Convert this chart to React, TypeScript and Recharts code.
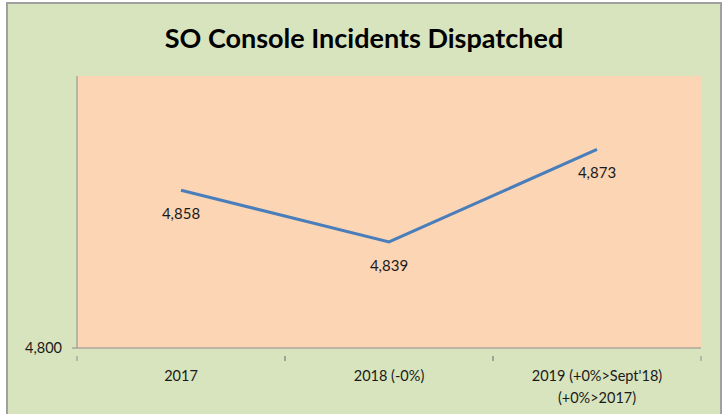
import { LineChart, Line, XAxis, YAxis, CartesianGrid, LabelList } from 'recharts'

const categories = ['2017', '2018 (-0%)', "2019 (+0%>Sept'18)\n(+0%>2017)"]
const incidents = [4858, 4839, 4873]
const yTicks = [4800]

const data = categories.map((name, i) => ({ name, value: incidents[i] }))

const FONT = 'Lato, "Open Sans", sans-serif'
const BAND = 208

const XTick = ({ x, y, payload }: any) => {
    const lines = String(payload.value).split('\n')
    return (
        <g>
            <line x1={x - BAND / 2} y1={y} x2={x - BAND / 2} y2={y + 5} stroke="#8c8c8c" />
            <line x1={x + BAND / 2} y1={y} x2={x + BAND / 2} y2={y + 5} stroke="#8c8c8c" />
            <text x={x} y={y + 25} textAnchor="middle" fill="#1a1a1a" fontSize={14.5} fontFamily={FONT}>
                {lines.map((l, i) => (
                    <tspan key={i} x={x} dy={i === 0 ? 0 : 22}>{l}</tspan>
                ))}
            </text>
        </g>
    )
}

export default function App() {
    return (
        <div style={{ position: 'fixed', left: 0, top: 0, width: 728, height: 414, background: '#fff', overflow: 'hidden' }}>
            <div
                style={{
                    position: 'absolute',
                    left: 6,
                    top: 2,
                    width: 712,
                    height: 430,
                    background: '#d8e4bd',
                    border: '2px solid #a0a0a0',
                }}
            />
            <div
                style={{
                    position: 'absolute',
                    left: 0,
                    top: 21,
                    width: 728,
                    textAlign: 'center',
                    fontFamily: FONT,
                    fontWeight: 700,
                    fontSize: 27,
                    color: '#000',
                }}
            >
                SO Console Incidents Dispatched
            </div>
            <div style={{ position: 'absolute', left: 0, top: 0 }}>
                <LineChart width={728} height={414} data={data} margin={{ top: 76, right: 27, bottom: 0, left: 0 }}>
                    <CartesianGrid fill="#fcd5b5" horizontal={false} vertical={false} stroke="none" />
                    <XAxis
                        dataKey="name"
                        scale="band"
                        height={66}
                        axisLine={{ stroke: '#8c8c8c' }}
                        tickLine={false}
                        tick={<XTick />}
                        interval={0}
                    />
                    <YAxis
                        width={77}
                        domain={[4800, 4900]}
                        ticks={yTicks}
                        axisLine={{ stroke: '#8c8c8c' }}
                        tickLine={{ stroke: '#8c8c8c' }}
                        tickSize={5}
                        tickMargin={10}
                        tick={{ fill: '#1a1a1a', fontSize: 14.5, fontFamily: FONT }}
                        tickFormatter={(v: number) => v.toLocaleString('en-US')}
                    />
                    <Line
                        type="linear"
                        dataKey="value"
                        stroke="#4a7ebb"
                        strokeWidth={3}
                        dot={false}
                        isAnimationActive={false}
                    >
                        <LabelList
                            dataKey="value"
                            position="bottom"
                            offset={18}
                            fill="#1a1a1a"
                            fontSize={15}
                            fontFamily={FONT}
                            formatter={(v: any) => Number(v).toLocaleString('en-US')}
                        />
                    </Line>
                </LineChart>
            </div>
        </div>
    )
}
